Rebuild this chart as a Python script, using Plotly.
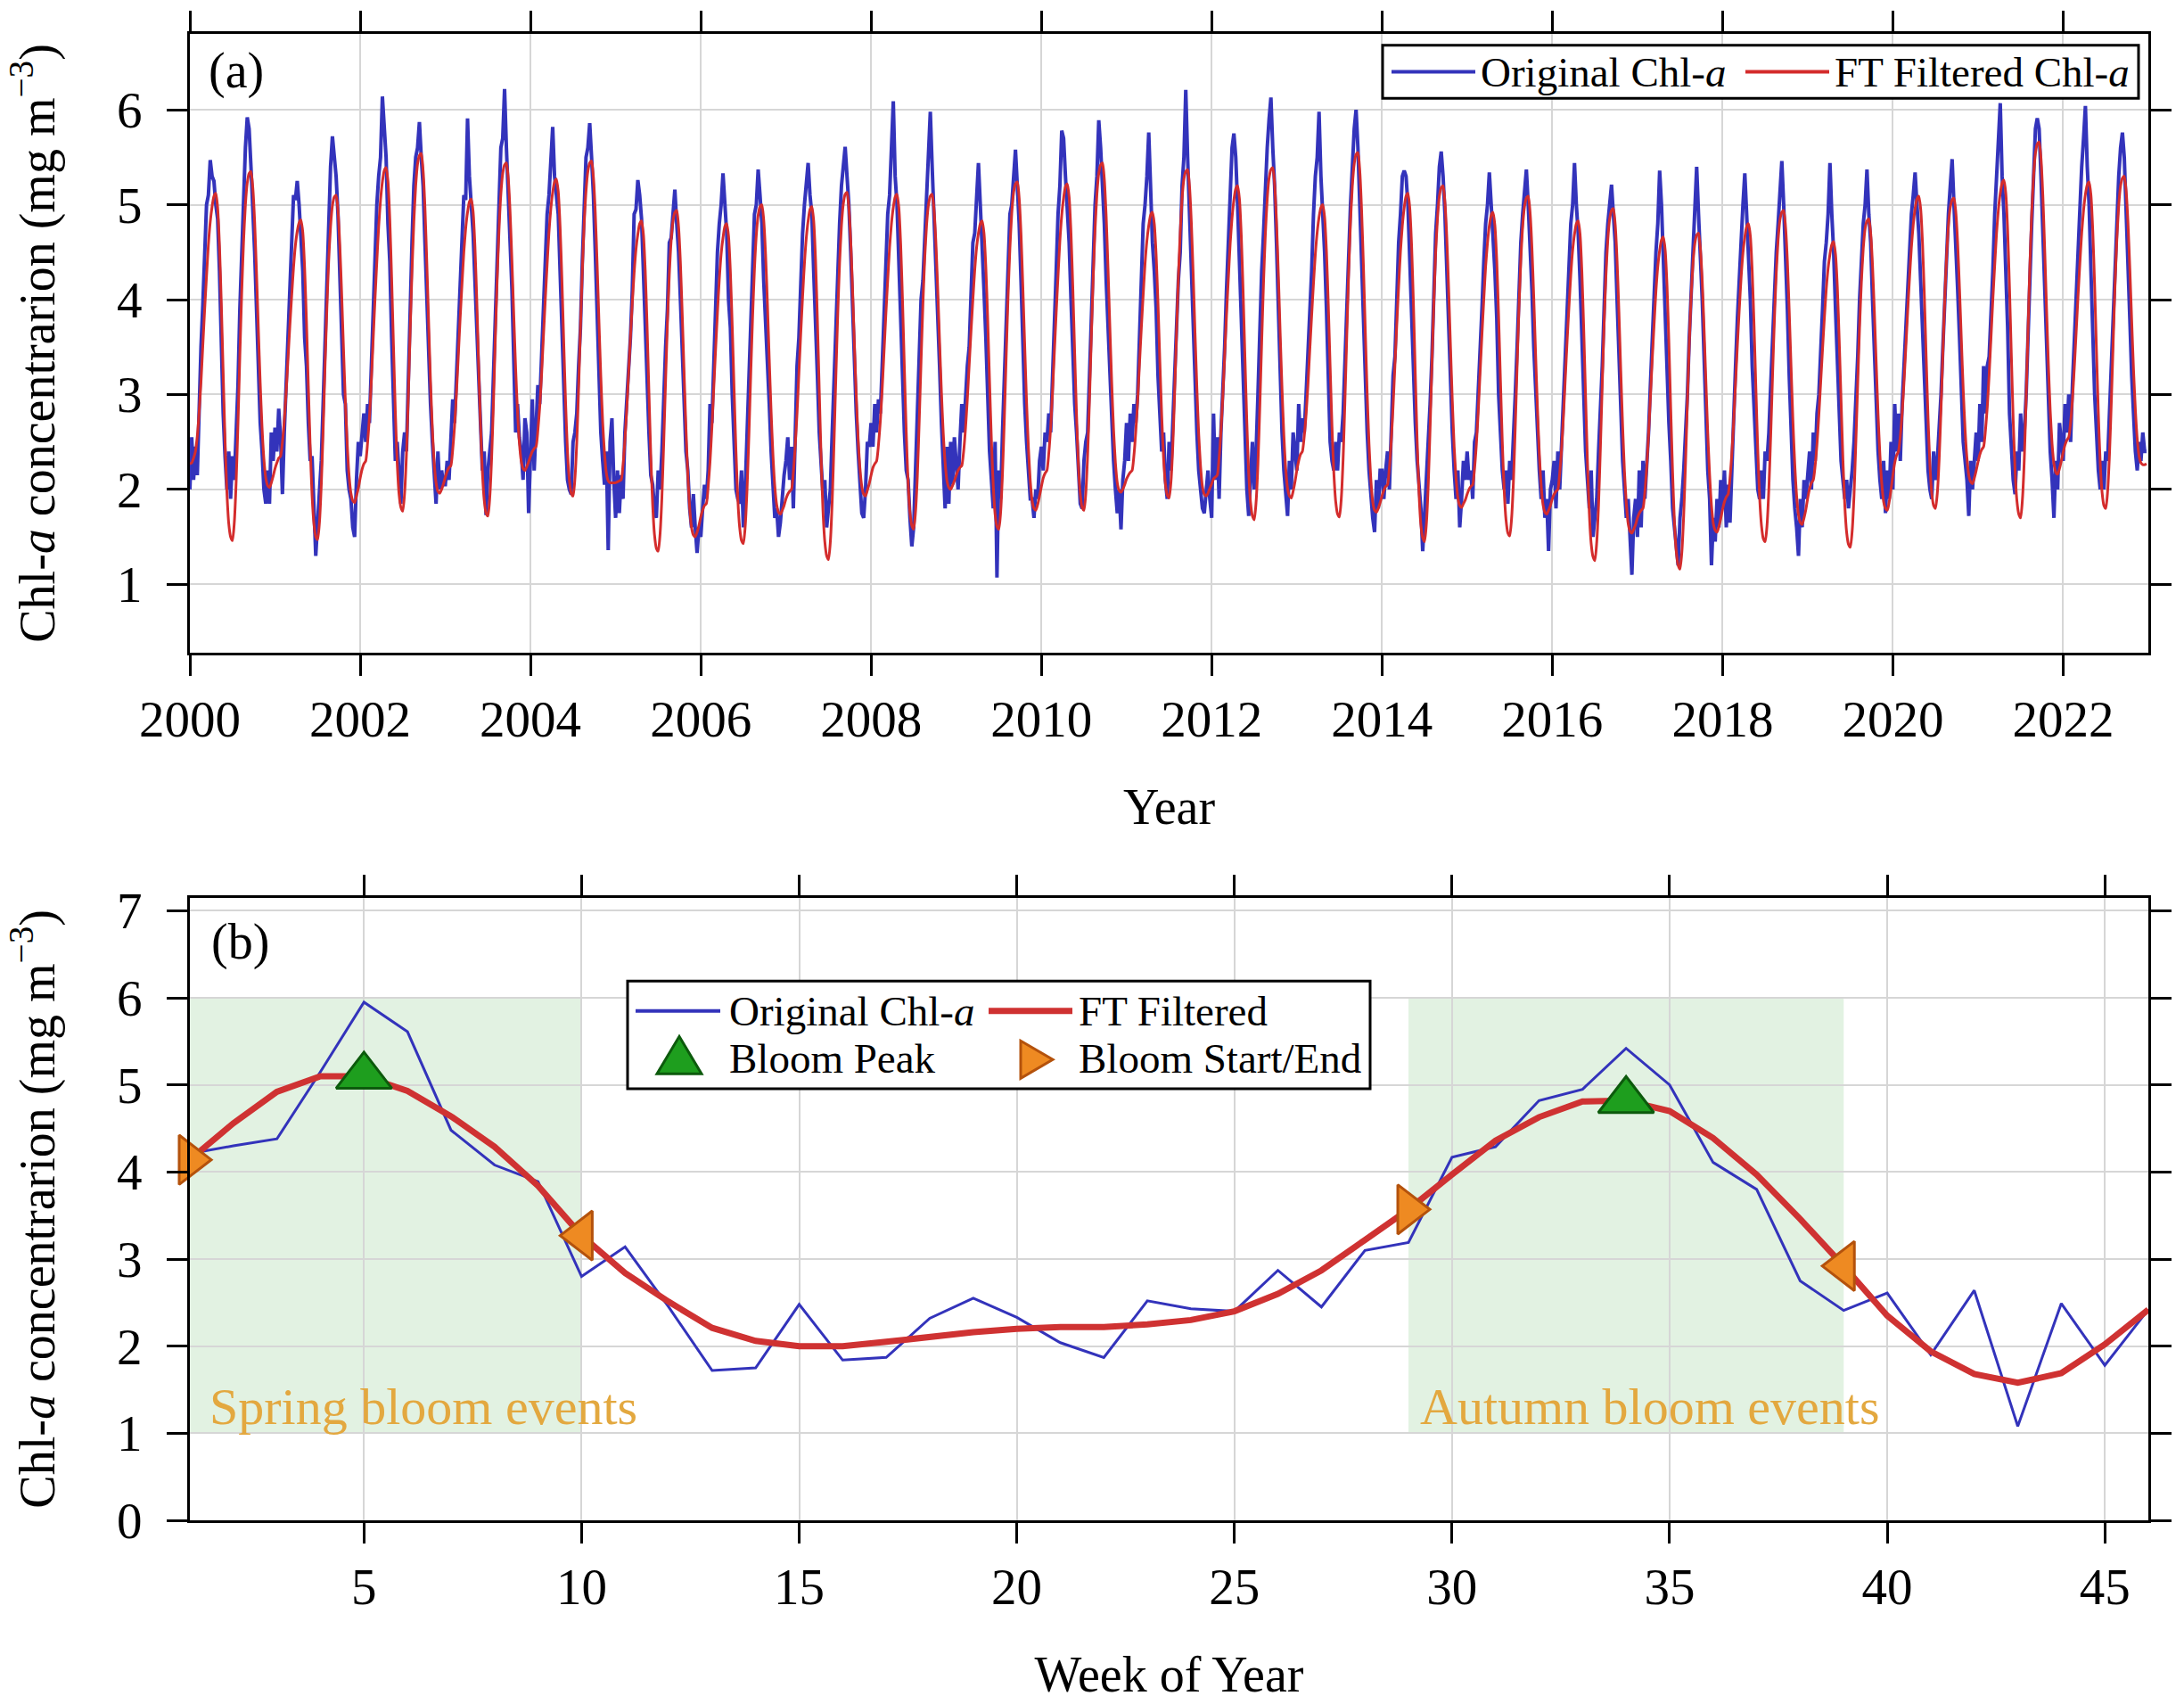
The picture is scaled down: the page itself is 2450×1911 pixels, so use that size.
import plotly.graph_objects as go

# ------------------------------------------------------------------
# Panel (a): 8-day Chl-a, 46 composites per year, 2000-2022
# ------------------------------------------------------------------
YEARS = list(range(2000, 2023))
STEPS_PER_YEAR = 46

CHL_ORIGINAL = [
    [2.0, 2.55, 2.1, 2.45, 2.15, 2.9, 3.5, 3.95, 4.6, 5.0, 5.1, 5.47, 5.3, 5.25, 5.0, 4.85, 4.3, 3.5, 2.8, 2.35, 2.0, 2.4, 1.9, 2.35, 2.1, 2.6, 3.1, 3.9, 4.5, 5.2, 5.6, 5.92, 5.8, 5.4, 5.0, 4.5, 3.9, 3.3, 2.7, 2.4, 2.0, 1.85, 2.2, 1.85, 2.6, 2.3],
    [2.65, 2.4, 2.85, 2.55, 1.95, 2.6, 3.1, 3.7, 4.1, 4.6, 5.1, 5.05, 5.25, 5.0, 4.7, 4.3, 3.6, 3.3, 2.7, 2.3, 2.35, 1.7, 1.3, 1.65, 2.0, 2.3, 2.9, 3.6, 4.3, 4.9, 5.4, 5.72, 5.5, 5.3, 4.9, 4.2, 3.6, 3.0, 2.9, 2.2, 2.0, 1.9, 1.6, 1.5, 2.1, 2.5],
    [2.35, 2.55, 2.8, 2.5, 2.9, 2.7, 3.3, 3.8, 4.5, 5.0, 5.3, 5.5, 6.14, 5.8, 5.5, 4.8, 4.4, 3.6, 2.9, 2.3, 2.5, 2.1, 1.85, 2.4, 2.6, 2.4, 3.2, 3.8, 4.6, 5.2, 5.5, 5.6, 5.87, 5.5, 5.2, 4.6, 4.0, 3.4, 2.9, 2.5, 2.2, 1.85, 2.4, 2.0, 2.2, 2.05],
    [2.05, 2.3, 2.1, 2.6, 2.95, 2.7, 3.2, 3.6, 4.3, 4.8, 5.1, 5.05, 5.91, 5.3, 5.0, 4.7, 4.2, 3.7, 3.1, 2.5, 2.2, 2.4, 1.73, 2.2, 2.45, 2.6, 3.2, 3.8, 4.5, 5.0, 5.6, 5.7, 6.22, 5.6, 5.0, 4.6, 4.1, 3.3, 2.6, 2.9, 2.55, 2.4, 2.1, 2.75, 2.6, 1.75],
    [2.4, 2.95, 2.2, 2.7, 3.1, 2.9, 3.4, 3.9, 4.4, 4.9, 5.1, 5.45, 5.82, 5.3, 5.1, 4.9, 4.3, 3.6, 3.2, 2.5, 2.1, 2.0, 1.95, 2.5, 2.6, 2.8, 3.3, 3.7, 4.4, 4.9, 5.5, 5.6, 5.86, 5.5, 5.1, 4.5, 3.8, 3.3, 2.6, 2.3, 2.05, 2.4, 1.36, 2.5, 2.75, 2.1],
    [1.7, 2.2, 1.75, 2.15, 1.9, 2.6, 2.9, 3.3, 3.6, 4.1, 4.9, 4.95, 5.26, 5.1, 4.85, 4.3, 3.7, 3.0, 2.6, 2.15, 2.05, 1.8, 1.7, 2.2, 2.0, 2.4, 3.0, 3.5, 3.9, 4.6, 4.65, 4.9, 5.16, 4.8, 4.5, 4.0, 3.5, 2.9, 2.4, 2.2, 1.8, 1.6, 1.95, 1.6, 1.33, 1.6],
    [1.5, 1.8, 2.05, 1.9, 2.2, 2.9, 2.7, 3.3, 3.9, 4.5, 4.8, 5.0, 5.33, 5.0, 4.7, 4.0, 3.7, 3.0, 2.4, 2.0, 1.9, 1.85, 2.2, 1.6, 2.0, 2.6, 3.3, 3.9, 4.5, 4.9, 5.0, 5.37, 5.1, 4.8, 4.2, 3.8, 3.3, 2.9, 2.4, 2.0, 1.7, 1.8, 1.5, 1.65, 1.95, 2.15],
    [2.3, 2.55, 2.1, 2.45, 1.8, 2.65, 3.3, 3.6, 4.2, 4.7, 5.0, 5.2, 5.44, 5.1, 4.9, 4.3, 3.6, 3.2, 2.6, 2.3, 1.95, 2.1, 1.6, 1.8, 2.0, 2.6, 3.2, 3.6, 4.3, 4.8, 5.2, 5.4, 5.61, 5.3, 5.0, 4.5, 3.9, 3.3, 2.8, 2.4, 2.0, 1.75, 1.7, 2.0, 2.5, 2.45],
    [2.7, 2.45, 2.9, 2.6, 2.95, 2.8, 3.3, 3.9, 4.3, 4.9, 5.1, 5.5, 6.09, 5.3, 5.0, 4.4, 3.7, 3.2, 2.6, 2.2, 2.1, 1.7, 1.4, 1.6, 2.2, 2.7, 3.4, 4.0, 4.2, 4.6, 5.0, 5.4, 5.98, 5.4, 4.9, 4.5, 3.9, 3.3, 2.7, 2.2, 1.8, 2.45, 1.85, 2.5, 2.05, 2.55],
    [2.3, 2.0, 2.5, 2.9, 2.6, 3.0, 3.3, 3.5, 4.1, 4.6, 4.7, 5.0, 5.44, 5.0, 4.6, 4.1, 3.6, 2.9, 2.4, 2.1, 1.8, 2.5, 1.07, 2.2, 1.9, 2.6, 3.2, 3.7, 4.3, 4.9, 5.0, 5.3, 5.58, 5.2, 4.8, 4.2, 3.5, 2.9, 2.5, 2.2, 1.9, 1.9, 1.7, 2.0, 1.9, 2.3],
    [2.45, 2.2, 2.6, 2.5, 2.8, 2.6, 3.1, 3.7, 4.3, 4.9, 5.2, 5.78, 5.7, 5.3, 5.0, 4.6, 4.0, 3.3, 2.9, 2.6, 2.2, 1.85, 1.8, 2.3, 2.5, 2.6, 3.2, 3.9, 4.4, 5.0, 5.3, 5.89, 5.6, 5.2, 4.8, 4.2, 3.7, 3.2, 2.9, 2.3, 2.0, 1.75, 2.0, 1.58, 2.1, 2.3],
    [2.7, 2.3, 2.8, 2.5, 2.9, 2.7, 3.0, 3.6, 4.2, 4.8, 5.0, 5.3, 5.76, 5.0, 4.6, 4.3, 3.9, 3.2, 2.8, 2.4, 2.6, 2.1, 1.9, 2.5, 2.2, 2.7, 3.3, 3.9, 4.2, 4.5, 5.2, 5.5, 6.21, 5.5, 4.9, 4.3, 3.7, 3.1, 2.6, 2.2, 2.0, 1.8, 1.75, 2.0, 2.2, 1.9],
    [1.7, 2.8, 2.1, 2.55, 1.9, 2.6, 3.0, 3.5, 4.1, 4.6, 5.1, 5.6, 5.75, 5.5, 5.0, 4.4, 3.8, 3.0, 2.5, 2.0, 1.72, 2.2, 2.5, 2.0, 2.4, 3.0, 3.7, 4.3, 4.7, 5.2, 5.6, 5.9, 6.13, 5.6, 5.2, 4.6, 3.9, 3.2, 2.6, 2.2, 1.9, 1.72, 2.3, 2.0, 2.6, 2.4],
    [2.2, 2.9, 2.5, 2.75, 2.6, 3.0, 3.4, 3.8, 4.3, 4.9, 5.3, 5.5, 5.98, 5.3, 4.9, 4.5, 3.9, 3.2, 2.5, 2.3, 2.2, 2.5, 2.2, 2.6, 2.5, 2.8, 3.4, 4.0, 4.5, 5.0, 5.4, 5.8, 6.0, 5.6, 5.0, 4.4, 3.9, 3.1, 2.6, 2.2, 1.9, 1.7, 1.55, 2.1, 1.8, 2.2],
    [2.2, 1.9, 2.2, 2.4, 2.0, 2.6, 3.2, 3.4, 4.0, 4.6, 4.9, 5.3, 5.36, 5.3, 5.0, 4.4, 3.9, 3.3, 2.7, 2.3, 2.0, 1.8, 1.35, 1.7, 2.1, 2.4, 2.9, 3.4, 4.1, 4.7, 5.0, 5.4, 5.56, 5.3, 4.9, 4.3, 3.6, 3.1, 2.6, 2.2, 1.9, 2.2, 1.6, 1.9, 2.3, 2.1],
    [2.4, 2.1, 2.2, 1.9, 2.5, 2.6, 3.0, 3.4, 3.9, 4.4, 4.8, 5.0, 5.34, 5.0, 4.7, 4.3, 3.8, 3.0, 2.6, 2.2, 2.0, 2.2, 1.85, 2.3, 2.1, 2.5, 3.0, 3.5, 4.1, 4.6, 4.9, 5.1, 5.37, 5.0, 4.6, 4.1, 3.5, 3.0, 2.6, 2.2, 1.9, 2.2, 1.7, 1.9, 1.35, 2.0],
    [2.1, 2.3, 1.8, 2.4, 2.0, 2.5, 3.0, 3.3, 3.9, 4.4, 4.8, 5.0, 5.44, 5.0, 4.7, 4.2, 3.6, 2.9, 2.4, 2.1, 1.8, 2.2, 1.5, 1.7, 1.9, 2.4, 2.8, 3.3, 3.9, 4.5, 4.8, 5.0, 5.21, 4.9, 4.6, 4.0, 3.4, 2.8, 2.3, 2.0, 1.7, 1.9, 1.5, 1.1, 1.7, 1.9],
    [1.5, 2.2, 1.6, 2.3, 1.9, 2.2, 2.6, 3.1, 3.6, 4.1, 4.5, 4.8, 5.36, 5.0, 4.4, 3.9, 3.4, 2.7, 2.3, 1.8, 1.6, 1.4, 1.2, 1.7, 1.9, 2.2, 2.6, 3.0, 3.6, 4.1, 4.5, 5.0, 5.4, 4.9, 4.5, 4.0, 3.4, 2.8, 2.2, 1.9, 1.2, 1.7, 1.45, 1.9, 1.6, 2.1],
    [1.8, 2.2, 1.6, 2.05, 1.65, 2.2, 2.9, 3.3, 3.8, 4.3, 4.6, 5.0, 5.33, 4.9, 4.5, 4.0, 3.3, 2.8, 2.5, 2.0, 1.9, 2.2, 1.9, 2.4, 2.3, 2.6, 3.1, 3.6, 4.0, 4.5, 4.8, 5.1, 5.46, 5.0, 4.5, 3.9, 3.2, 2.6, 2.1, 1.8, 1.6, 1.3, 1.9, 1.6, 2.1, 1.9],
    [2.2, 2.4, 2.0, 2.6, 2.3, 2.8, 3.0, 3.4, 3.9, 4.4, 4.6, 4.9, 5.44, 4.9, 4.5, 3.9, 3.3, 2.7, 2.3, 2.1, 1.9, 2.1, 1.8, 2.0, 2.2, 2.5, 2.9, 3.4, 4.0, 4.4, 4.8, 5.0, 5.37, 4.9, 4.6, 4.0, 3.4, 2.9, 2.4, 2.1, 1.9, 2.3, 1.75, 2.2, 1.9, 2.5],
    [2.0, 2.9, 2.4, 2.8, 2.3, 2.9, 3.3, 3.7, 4.1, 4.6, 4.9, 5.1, 5.34, 5.0, 4.7, 4.2, 3.7, 3.0, 2.5, 2.2, 2.0, 1.9, 2.4, 2.1, 2.3, 2.6, 3.0, 3.5, 4.0, 4.5, 4.9, 5.2, 5.48, 5.0, 4.6, 4.1, 3.6, 3.0, 2.5, 2.3, 2.1, 1.72, 2.3, 2.0, 2.3, 2.6],
    [2.3, 2.9, 2.5, 3.3, 2.8, 3.3, 3.4, 3.8, 4.3, 4.9, 5.3, 5.6, 6.07, 5.3, 4.9, 4.3, 3.7, 2.8, 2.4, 2.1, 1.95, 2.4, 2.2, 2.8, 2.4, 2.6, 3.0, 3.5, 4.2, 4.8, 5.4, 5.8, 5.91, 5.8, 5.3, 4.7, 4.0, 3.4, 2.8, 2.4, 2.1, 1.7, 2.3, 2.0, 2.7, 2.5],
    [2.3, 2.9, 2.6, 3.0, 2.5, 3.1, 3.6, 4.0, 4.5, 4.9, 5.4, 5.7, 6.04, 5.4, 5.0, 4.3, 3.6, 3.0, 2.6, 2.2, 2.0, 2.3, 2.0, 2.4, 2.3, 2.8, 3.2, 3.9, 4.4, 4.9, 5.3, 5.6, 5.76, 5.5, 5.0, 4.4, 3.8, 3.2, 2.7, 2.4, 2.2, 2.5, 2.3, 2.6, 2.4, 2.4],
]

CHL_FILTERED = [
    [2.27, 2.28, 2.33, 2.40, 2.56, 2.81, 3.13, 3.52, 3.90, 4.25, 4.58, 4.82, 4.98, 5.09, 5.12, 4.97, 4.57, 3.95, 3.22, 2.52, 1.97, 1.64, 1.50, 1.46, 1.65, 2.08, 2.70, 3.41, 4.07, 4.61, 5.00, 5.23, 5.33, 5.35, 5.18, 4.82, 4.28, 3.69, 3.12, 2.65, 2.32, 2.12, 2.04, 2.02, 2.07, 2.14],
    [2.22, 2.28, 2.33, 2.35, 2.50, 2.72, 3.02, 3.37, 3.72, 4.04, 4.34, 4.57, 4.72, 4.81, 4.84, 4.71, 4.33, 3.76, 3.09, 2.45, 1.94, 1.64, 1.50, 1.47, 1.65, 2.05, 2.63, 3.29, 3.90, 4.41, 4.77, 4.99, 5.08, 5.10, 4.94, 4.58, 4.06, 3.48, 2.93, 2.48, 2.15, 1.96, 1.88, 1.86, 1.93, 2.01],
    [2.12, 2.21, 2.27, 2.30, 2.49, 2.76, 3.13, 3.57, 4.00, 4.40, 4.77, 5.05, 5.24, 5.36, 5.39, 5.25, 4.85, 4.23, 3.51, 2.82, 2.28, 1.95, 1.81, 1.77, 1.96, 2.37, 2.98, 3.66, 4.30, 4.82, 5.20, 5.43, 5.52, 5.54, 5.36, 4.97, 4.39, 3.75, 3.14, 2.64, 2.28, 2.07, 1.98, 1.96, 2.00, 2.06],
    [2.13, 2.19, 2.23, 2.25, 2.42, 2.67, 3.01, 3.40, 3.80, 4.16, 4.50, 4.75, 4.92, 5.03, 5.06, 4.93, 4.56, 3.99, 3.32, 2.69, 2.19, 1.89, 1.75, 1.72, 1.91, 2.32, 2.91, 3.58, 4.21, 4.73, 5.11, 5.33, 5.42, 5.44, 5.28, 4.92, 4.40, 3.82, 3.27, 2.82, 2.49, 2.30, 2.22, 2.20, 2.24, 2.29],
    [2.35, 2.40, 2.43, 2.45, 2.62, 2.87, 3.21, 3.61, 4.00, 4.37, 4.71, 4.96, 5.13, 5.24, 5.27, 5.14, 4.77, 4.20, 3.53, 2.90, 2.40, 2.10, 1.96, 1.93, 2.11, 2.49, 3.06, 3.70, 4.30, 4.79, 5.14, 5.35, 5.44, 5.46, 5.29, 4.92, 4.38, 3.77, 3.19, 2.71, 2.38, 2.17, 2.09, 2.07, 2.07, 2.07],
    [2.07, 2.08, 2.09, 2.10, 2.26, 2.51, 2.84, 3.22, 3.60, 3.96, 4.28, 4.53, 4.69, 4.80, 4.83, 4.69, 4.31, 3.72, 3.02, 2.36, 1.84, 1.52, 1.38, 1.35, 1.53, 1.92, 2.50, 3.15, 3.76, 4.26, 4.62, 4.83, 4.92, 4.94, 4.77, 4.39, 3.84, 3.22, 2.64, 2.15, 1.81, 1.60, 1.52, 1.50, 1.55, 1.62],
    [1.71, 1.78, 1.83, 1.85, 2.03, 2.29, 2.65, 3.06, 3.47, 3.86, 4.21, 4.48, 4.65, 4.77, 4.80, 4.67, 4.29, 3.72, 3.05, 2.41, 1.90, 1.60, 1.46, 1.43, 1.61, 2.00, 2.57, 3.22, 3.82, 4.32, 4.68, 4.89, 4.98, 5.00, 4.84, 4.48, 3.96, 3.37, 2.82, 2.36, 2.03, 1.84, 1.76, 1.74, 1.78, 1.83],
    [1.90, 1.95, 1.98, 2.00, 2.18, 2.45, 2.80, 3.22, 3.64, 4.03, 4.38, 4.65, 4.83, 4.95, 4.98, 4.83, 4.42, 3.79, 3.05, 2.34, 1.78, 1.45, 1.30, 1.26, 1.45, 1.88, 2.50, 3.20, 3.85, 4.39, 4.78, 5.01, 5.11, 5.13, 4.97, 4.62, 4.11, 3.53, 2.99, 2.54, 2.22, 2.03, 1.95, 1.93, 1.99, 2.06],
    [2.15, 2.23, 2.27, 2.30, 2.47, 2.72, 3.06, 3.45, 3.85, 4.21, 4.55, 4.80, 4.97, 5.08, 5.11, 4.97, 4.58, 3.98, 3.27, 2.60, 2.07, 1.76, 1.62, 1.58, 1.76, 2.14, 2.71, 3.35, 3.95, 4.44, 4.79, 5.00, 5.09, 5.11, 4.95, 4.61, 4.11, 3.56, 3.03, 2.59, 2.28, 2.09, 2.02, 2.00, 2.04, 2.09],
    [2.15, 2.20, 2.23, 2.25, 2.40, 2.64, 2.95, 3.31, 3.67, 4.00, 4.31, 4.55, 4.70, 4.80, 4.83, 4.70, 4.34, 3.79, 3.14, 2.52, 2.04, 1.74, 1.61, 1.58, 1.76, 2.17, 2.75, 3.41, 4.03, 4.54, 4.91, 5.13, 5.22, 5.24, 5.07, 4.69, 4.13, 3.51, 2.92, 2.44, 2.09, 1.88, 1.80, 1.78, 1.84, 1.93],
    [2.03, 2.12, 2.17, 2.20, 2.38, 2.65, 3.02, 3.44, 3.86, 4.25, 4.62, 4.89, 5.07, 5.19, 5.22, 5.08, 4.70, 4.12, 3.43, 2.78, 2.26, 1.95, 1.81, 1.78, 1.96, 2.37, 2.95, 3.61, 4.23, 4.74, 5.11, 5.33, 5.42, 5.44, 5.27, 4.88, 4.33, 3.71, 3.12, 2.63, 2.28, 2.07, 1.99, 1.97, 2.00, 2.05],
    [2.11, 2.15, 2.18, 2.20, 2.36, 2.61, 2.93, 3.32, 3.70, 4.05, 4.38, 4.62, 4.78, 4.89, 4.92, 4.80, 4.47, 3.96, 3.35, 2.78, 2.33, 2.06, 1.94, 1.91, 2.08, 2.46, 3.02, 3.64, 4.23, 4.71, 5.06, 5.27, 5.35, 5.37, 5.20, 4.82, 4.27, 3.65, 3.07, 2.58, 2.24, 2.03, 1.95, 1.93, 1.96, 2.01],
    [2.06, 2.11, 2.13, 2.15, 2.33, 2.61, 2.97, 3.40, 3.83, 4.22, 4.59, 4.86, 5.05, 5.17, 5.20, 5.06, 4.67, 4.07, 3.37, 2.70, 2.17, 1.86, 1.72, 1.68, 1.87, 2.27, 2.87, 3.54, 4.17, 4.69, 5.06, 5.28, 5.37, 5.39, 5.22, 4.83, 4.28, 3.65, 3.06, 2.57, 2.22, 2.01, 1.93, 1.91, 1.98, 2.08],
    [2.20, 2.30, 2.37, 2.40, 2.56, 2.79, 3.10, 3.47, 3.83, 4.17, 4.48, 4.71, 4.87, 4.97, 5.00, 4.87, 4.51, 3.95, 3.29, 2.66, 2.17, 1.87, 1.74, 1.71, 1.90, 2.32, 2.94, 3.63, 4.28, 4.82, 5.20, 5.43, 5.53, 5.55, 5.36, 4.94, 4.34, 3.66, 3.01, 2.48, 2.10, 1.87, 1.78, 1.76, 1.80, 1.86],
    [1.93, 1.99, 2.03, 2.05, 2.23, 2.51, 2.88, 3.31, 3.74, 4.14, 4.51, 4.78, 4.97, 5.09, 5.12, 4.97, 4.57, 3.95, 3.21, 2.51, 1.96, 1.63, 1.49, 1.45, 1.64, 2.05, 2.65, 3.33, 3.96, 4.49, 4.86, 5.09, 5.18, 5.20, 5.03, 4.66, 4.12, 3.51, 2.93, 2.45, 2.12, 1.91, 1.83, 1.81, 1.85, 1.89],
    [1.95, 2.00, 2.03, 2.05, 2.22, 2.48, 2.82, 3.23, 3.63, 4.00, 4.35, 4.60, 4.78, 4.89, 4.92, 4.78, 4.41, 3.83, 3.15, 2.50, 1.99, 1.68, 1.54, 1.51, 1.69, 2.08, 2.66, 3.30, 3.91, 4.41, 4.77, 4.98, 5.07, 5.09, 4.92, 4.55, 4.02, 3.42, 2.85, 2.38, 2.04, 1.84, 1.76, 1.74, 1.78, 1.83],
    [1.90, 1.95, 1.98, 2.00, 2.17, 2.42, 2.76, 3.16, 3.56, 3.92, 4.26, 4.52, 4.69, 4.80, 4.83, 4.69, 4.29, 3.68, 2.97, 2.29, 1.75, 1.43, 1.29, 1.25, 1.44, 1.84, 2.44, 3.11, 3.74, 4.26, 4.63, 4.85, 4.94, 4.96, 4.79, 4.41, 3.87, 3.25, 2.67, 2.19, 1.85, 1.64, 1.56, 1.54, 1.58, 1.63],
    [1.70, 1.75, 1.78, 1.80, 1.97, 2.23, 2.57, 2.97, 3.37, 3.74, 4.09, 4.35, 4.52, 4.63, 4.66, 4.52, 4.14, 3.54, 2.84, 2.18, 1.65, 1.34, 1.20, 1.16, 1.34, 1.73, 2.29, 2.93, 3.53, 4.03, 4.38, 4.59, 4.68, 4.70, 4.54, 4.20, 3.69, 3.13, 2.59, 2.15, 1.83, 1.64, 1.57, 1.55, 1.61, 1.69],
    [1.79, 1.87, 1.92, 1.95, 2.12, 2.38, 2.72, 3.12, 3.52, 3.89, 4.23, 4.49, 4.66, 4.77, 4.80, 4.67, 4.30, 3.73, 3.06, 2.42, 1.92, 1.62, 1.48, 1.45, 1.62, 2.01, 2.57, 3.20, 3.79, 4.28, 4.63, 4.84, 4.92, 4.94, 4.77, 4.41, 3.88, 3.29, 2.72, 2.26, 1.93, 1.73, 1.65, 1.63, 1.70, 1.79],
    [1.91, 2.01, 2.07, 2.10, 2.25, 2.48, 2.78, 3.13, 3.48, 3.81, 4.11, 4.33, 4.48, 4.58, 4.61, 4.48, 4.13, 3.58, 2.94, 2.32, 1.84, 1.55, 1.42, 1.39, 1.56, 1.94, 2.50, 3.12, 3.71, 4.19, 4.54, 4.75, 4.83, 4.85, 4.70, 4.36, 3.87, 3.32, 2.79, 2.36, 2.06, 1.87, 1.80, 1.78, 1.87, 2.00],
    [2.15, 2.28, 2.36, 2.40, 2.56, 2.80, 3.13, 3.50, 3.88, 4.23, 4.55, 4.79, 4.96, 5.06, 5.09, 4.96, 4.60, 4.04, 3.38, 2.75, 2.26, 1.96, 1.83, 1.80, 1.96, 2.32, 2.85, 3.44, 3.99, 4.45, 4.78, 4.97, 5.05, 5.07, 4.92, 4.59, 4.11, 3.57, 3.05, 2.63, 2.33, 2.15, 2.08, 2.06, 2.12, 2.20],
    [2.29, 2.37, 2.42, 2.45, 2.62, 2.87, 3.21, 3.60, 4.00, 4.36, 4.70, 4.95, 5.12, 5.23, 5.26, 5.12, 4.73, 4.12, 3.41, 2.73, 2.20, 1.88, 1.74, 1.70, 1.90, 2.33, 2.97, 3.68, 4.35, 4.91, 5.30, 5.54, 5.64, 5.66, 5.49, 5.10, 4.54, 3.91, 3.32, 2.83, 2.48, 2.27, 2.18, 2.16, 2.22, 2.30],
    [2.39, 2.47, 2.52, 2.55, 2.71, 2.95, 3.28, 3.65, 4.03, 4.38, 4.70, 4.94, 5.11, 5.21, 5.24, 5.10, 4.72, 4.14, 3.45, 2.80, 2.28, 1.97, 1.83, 1.80, 1.98, 2.36, 2.92, 3.55, 4.15, 4.64, 4.99, 5.20, 5.28, 5.30, 5.15, 4.81, 4.33, 3.78, 3.26, 2.84, 2.53, 2.35, 2.28, 2.26, 2.26, 2.27],
]

# ------------------------------------------------------------------
# Panel (b): one year, week of year 1-46
# ------------------------------------------------------------------
WEEKS = list(range(1, 47))
WEEK_ORIGINAL = [4.21, 4.30, 4.38, 5.15, 5.95, 5.61, 4.48, 4.08, 3.89, 2.80,
                 3.14, 2.45, 1.72, 1.75, 2.48, 1.84, 1.87, 2.32, 2.55, 2.33,
                 2.04, 1.87, 2.52, 2.43, 2.40, 2.87, 2.45, 3.10, 3.19, 4.17,
                 4.29, 4.82, 4.95, 5.42, 5.00, 4.11, 3.80, 2.75, 2.41, 2.61,
                 1.90, 2.64, 1.08, 2.49, 1.78, 2.42]
WEEK_FILTERED = [4.14, 4.56, 4.92, 5.10, 5.10, 4.93, 4.64, 4.29, 3.84, 3.27,
                 2.84, 2.51, 2.21, 2.06, 2.00, 2.00, 2.05, 2.11, 2.16, 2.20,
                 2.22, 2.22, 2.25, 2.30, 2.40, 2.60, 2.87, 3.22, 3.57, 3.97,
                 4.36, 4.63, 4.81, 4.82, 4.70, 4.39, 3.97, 3.46, 2.92, 2.35,
                 1.94, 1.68, 1.58, 1.69, 2.02, 2.42]
PEAK_WEEKS = [5, 34]
START_WEEKS = [1, 29]
END_WEEKS = [10, 39]
BLOOM_WINDOWS = [(1, 10), (29, 39)]
BLOOM_LABELS = ["Spring bloom events", "Autumn bloom events"]
BLOOM_BAND = (1, 6)

# ------------------------------------------------------------------
# Style
# ------------------------------------------------------------------
FONT = "Liberation Serif"
BLUE = "#3333bb"
RED = "#d42c2c"
RED_B = "#cf3232"
GREEN = "#1e9e1e"
GREEN_EDGE = "#0c5a0c"
ORANGE = "#ee8a22"
ORANGE_EDGE = "#b4520c"
SHADE = "#e2f2e2"
GOLD = "#e3a83f"
GRID = "#d6d6d6"
YTITLE = "Chl-<i>a</i> concentrarion (mg m<sup>\u22123</sup>)"

W, H = 2450, 1911
ML, MR, MT, MB = 213, 40, 37, 190
PW = W - ML - MR
PH = H - MT - MB


def px_x(px):
    return (px - ML) / PW


def px_y(py):
    return (H - MB - py) / PH


# time axis for panel (a)
t_a, orig_a, filt_a = [], [], []
for year, row_o, row_f in zip(YEARS, CHL_ORIGINAL, CHL_FILTERED):
    t_a += [year + i / STEPS_PER_YEAR for i in range(len(row_o))]
    orig_a += row_o
    filt_a += row_f

fig = go.Figure()

fig.add_trace(go.Scatter(x=t_a, y=orig_a, mode="lines", name="Original Chl-a",
                         line=dict(color=BLUE, width=4), xaxis="x", yaxis="y"))
fig.add_trace(go.Scatter(x=t_a, y=filt_a, mode="lines", name="FT Filtered Chl-a",
                         line=dict(color=RED, width=3, shape="spline", smoothing=0.6),
                         xaxis="x", yaxis="y"))

fig.add_trace(go.Scatter(x=WEEKS, y=WEEK_ORIGINAL, mode="lines", name="Original Chl-a",
                         line=dict(color=BLUE, width=3), xaxis="x2", yaxis="y2"))
fig.add_trace(go.Scatter(x=WEEKS, y=WEEK_FILTERED, mode="lines", name="FT Filtered",
                         line=dict(color=RED_B, width=7), xaxis="x2", yaxis="y2"))

fig.add_trace(go.Scatter(
    x=PEAK_WEEKS, y=[WEEK_FILTERED[w - 1] for w in PEAK_WEEKS], mode="markers",
    name="Bloom Peak", cliponaxis=False, xaxis="x2", yaxis="y2",
    marker=dict(symbol="triangle-up", size=54, color=GREEN,
                line=dict(color=GREEN_EDGE, width=3))))
fig.add_trace(go.Scatter(
    x=START_WEEKS, y=[WEEK_FILTERED[w - 1] for w in START_WEEKS], mode="markers",
    name="Bloom Start/End", cliponaxis=False, xaxis="x2", yaxis="y2",
    marker=dict(symbol="triangle-right", size=48, color=ORANGE,
                line=dict(color=ORANGE_EDGE, width=3))))
fig.add_trace(go.Scatter(
    x=END_WEEKS, y=[WEEK_FILTERED[w - 1] for w in END_WEEKS], mode="markers",
    name="Bloom Start/End", cliponaxis=False, xaxis="x2", yaxis="y2",
    marker=dict(symbol="triangle-left", size=48, color=ORANGE,
                line=dict(color=ORANGE_EDGE, width=3))))

# bloom windows
label_shift = [0.4, 0.22]
for (w0, w1), label, dx in zip(BLOOM_WINDOWS, BLOOM_LABELS, label_shift):
    fig.add_shape(type="rect", xref="x2", yref="y2", x0=w0, x1=w1,
                  y0=BLOOM_BAND[0], y1=BLOOM_BAND[1], fillcolor=SHADE,
                  line=dict(width=0), layer="below")
    fig.add_annotation(xref="x2", yref="y2", x=w0 + dx, y=1.31, text=label,
                       showarrow=False, xanchor="left", yanchor="middle",
                       font=dict(family=FONT, size=58, color=GOLD))

# panel letters
fig.add_annotation(xref="paper", yref="paper", x=px_x(232), y=px_y(79), text="(a)",
                   showarrow=False, xanchor="left", yanchor="middle",
                   font=dict(family=FONT, size=56, color="black"))
fig.add_annotation(xref="paper", yref="paper", x=px_x(235), y=px_y(1066), text="(b)",
                   showarrow=False, xanchor="left", yanchor="middle",
                   font=dict(family=FONT, size=56, color="black"))


# hand-placed legend boxes (pixel positions of the figure)
def legend_box(x0, x1, y0, y1):
    fig.add_shape(type="rect", xref="paper", yref="paper", x0=px_x(x0), x1=px_x(x1),
                  y0=px_y(y1), y1=px_y(y0), fillcolor="white",
                  line=dict(color="black", width=3), layer="above")


def legend_line(x0, x1, y, color, width):
    fig.add_shape(type="line", xref="paper", yref="paper", x0=px_x(x0), x1=px_x(x1),
                  y0=px_y(y), y1=px_y(y), line=dict(color=color, width=width),
                  layer="above")


def legend_glyph(cx, cy, path, fill, edge):
    fig.add_shape(type="path", xref="paper", yref="paper", xsizemode="pixel",
                  ysizemode="pixel", xanchor=px_x(cx), yanchor=px_y(cy), path=path,
                  fillcolor=fill, line=dict(color=edge, width=3), layer="above")


def legend_text(x, y, text):
    fig.add_annotation(xref="paper", yref="paper", x=px_x(x), y=px_y(y), text=text,
                       showarrow=False, xanchor="left", yanchor="middle",
                       font=dict(family=FONT, size=47, color="black"))


legend_box(1551, 2399, 50, 110)
legend_line(1561, 1655, 80, BLUE, 4)
legend_text(1659, 80, "Original Chl-<i>a</i>")
legend_line(1958, 2052, 80, RED, 4)
legend_text(2056, 80, "FT Filtered Chl-<i>a</i>")

legend_box(704, 1537, 1110, 1232)
legend_line(713, 808, 1144, BLUE, 4)
legend_text(816, 1144, "Original Chl-<i>a</i>")
legend_line(1109, 1203, 1144, RED_B, 7)
legend_text(1208, 1144, "FT Filtered")
legend_glyph(762, 1195, "M -25,-20 L 25,-20 L 0,22 Z", GREEN, GREEN_EDGE)
legend_text(816, 1198, "Bloom Peak")
legend_glyph(1162, 1199, "M -17,-21 L -17,21 L 19,0 Z", ORANGE, ORANGE_EDGE)
legend_text(1208, 1198, "Bloom Start/End")

axis_style = dict(showline=True, linecolor="black", linewidth=3, mirror="allticks",
                  ticks="outside", ticklen=23, tickwidth=3, tickcolor="black",
                  showgrid=True, gridcolor=GRID, gridwidth=2, zeroline=False,
                  tickfont=dict(family=FONT, size=57, color="black"))

fig.update_layout(
    width=W, height=H,
    margin=dict(l=ML, r=MR, t=MT, b=MB),
    paper_bgcolor="white", plot_bgcolor="white",
    showlegend=False,
    font=dict(family=FONT, color="black"),
    xaxis=dict(axis_style, domain=[0, 1], anchor="y", range=[2000, 2023],
               tickvals=list(range(2000, 2023, 2)), ticklabelstandoff=0,
               title=dict(text="Year", font=dict(family=FONT, size=56), standoff=48)),
    yaxis=dict(axis_style, domain=[px_y(738), 1], anchor="x", range=[0.28, 6.8],
               tickvals=[1, 2, 3, 4, 5, 6], ticklabelstandoff=16,
               title=dict(text=YTITLE, font=dict(family=FONT, size=56), standoff=52)),
    xaxis2=dict(axis_style, domain=[0, 1], anchor="y2", range=[1, 46],
                tickvals=list(range(5, 46, 5)), ticklabelstandoff=0,
                title=dict(text="Week of Year", font=dict(family=FONT, size=56), standoff=48)),
    yaxis2=dict(axis_style, domain=[0, px_y(1015.6)], anchor="x2", range=[0, 7.15],
                tickvals=list(range(0, 8)), ticklabelstandoff=16,
                title=dict(text=YTITLE, font=dict(family=FONT, size=56), standoff=52)),
)

fig.write_html("out.html", config={"displayModeBar": False},
               post_script="document.body.style.margin='0';")
